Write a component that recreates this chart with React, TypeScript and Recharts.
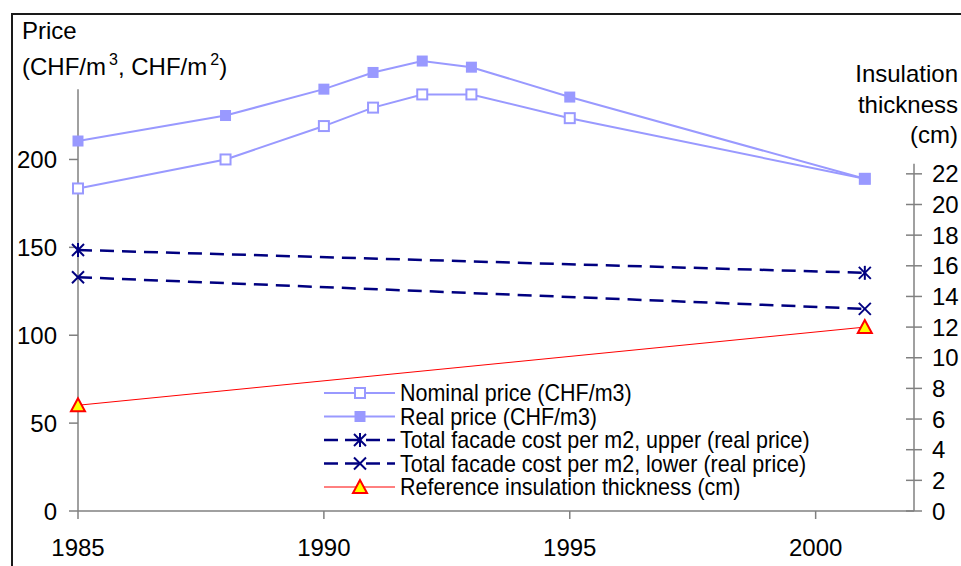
import React from "react";
import { LineChart, Line, XAxis, YAxis, ReferenceLine, Legend } from "recharts";

// values
const years = [1985, 1988, 1990, 1991, 1992, 1993, 1995, 2001];
const nominalPrice = [183.5, 200, 219, 229.5, 237, 237, 223.5, 189];
const realPrice = [210.5, 225, 240, 249.5, 256, 252.5, 235.5, 189];
const facadeUpper = [148.5, null, null, null, null, null, null, 135.5];
const facadeLower = [133, null, null, null, null, null, null, 115];
const refThickness = [6.9, null, null, null, null, null, null, 12];

const yearTicks = [1985, 1990, 1995, 2000];
const priceTicks = [0, 50, 100, 150, 200];
const thicknessTicks = [0, 2, 4, 6, 8, 10, 12, 14, 16, 18, 20, 22];

const data = years.map((year, i) => ({
  year,
  nominal: nominalPrice[i],
  real: realPrice[i],
  upper: facadeUpper[i],
  lower: facadeLower[i],
  thickness: refThickness[i],
}));

const LAV = "#9999ff";
const NAVY = "#000080";
const RED = "#ff0000";
const YELLOW = "#ffff00";
const AXIS = "#808080";
const FONT = '"Liberation Sans", Arial, sans-serif';
const DASH = "14 8";

type Shape = "openSquare" | "filledSquare" | "asterisk" | "cross" | "triangle";

function Marker({ shape, cx, cy }: { shape: Shape; cx: number; cy: number }) {
  switch (shape) {
    case "openSquare":
      return <rect x={cx - 5} y={cy - 5} width={10} height={10} fill="#fff" stroke={LAV} strokeWidth={2} />;
    case "filledSquare":
      return <rect x={cx - 5.5} y={cy - 5.5} width={11} height={11} fill={LAV} />;
    case "asterisk":
      return (
        <g stroke={NAVY} strokeWidth={2}>
          <line x1={cx - 6} y1={cy - 6} x2={cx + 6} y2={cy + 6} />
          <line x1={cx - 6} y1={cy + 6} x2={cx + 6} y2={cy - 6} />
          <line x1={cx} y1={cy - 7} x2={cx} y2={cy + 7} />
        </g>
      );
    case "cross":
      return (
        <g stroke={NAVY} strokeWidth={2}>
          <line x1={cx - 6} y1={cy - 6} x2={cx + 6} y2={cy + 6} />
          <line x1={cx - 6} y1={cy + 6} x2={cx + 6} y2={cy - 6} />
        </g>
      );
    default:
      return (
        <polygon
          points={`${cx},${cy - 7} ${cx - 7},${cy + 6} ${cx + 7},${cy + 6}`}
          fill={YELLOW}
          stroke={RED}
          strokeWidth={2}
          strokeLinejoin="miter"
        />
      );
  }
}

const dotOf = (shape: Shape) => (props: any) => {
  const { cx, cy, index, value } = props;
  if (value == null || cx == null || cy == null) return <g key={`e-${index}`} />;
  return (
    <g key={`${shape}-${index}`}>
      <Marker shape={shape} cx={cx} cy={cy} />
    </g>
  );
};

const series = [
  { key: "nominal", name: "Nominal price (CHF/m3)", color: LAV, width: 2, dash: undefined, shape: "openSquare" as Shape, axis: "left" },
  { key: "real", name: "Real price (CHF/m3)", color: LAV, width: 2, dash: undefined, shape: "filledSquare" as Shape, axis: "left" },
  { key: "upper", name: "Total facade cost per m2, upper (real price)", color: NAVY, width: 2.5, dash: DASH, shape: "asterisk" as Shape, axis: "left" },
  { key: "lower", name: "Total facade cost per m2, lower (real price)", color: NAVY, width: 2.5, dash: DASH, shape: "cross" as Shape, axis: "left" },
  { key: "thickness", name: "Reference insulation thickness (cm)", color: RED, width: 1, dash: undefined, shape: "triangle" as Shape, axis: "right" },
];

function LegendBox() {
  const rowH = 23.5;
  return (
    <svg width={520} height={125} style={{ display: "block", overflow: "visible" }}>
      {series.map((s, i) => {
        const y = 13 + i * rowH;
        return (
          <g key={s.key}>
            <line
              x1={4}
              x2={75}
              y1={y}
              y2={y}
              stroke={s.color}
              strokeWidth={s.width}
              strokeDasharray={s.dash ? "14 7" : undefined}
            />
            <Marker shape={s.shape} cx={40} cy={y} />
            <text
              transform={`translate(80 ${y}) scale(0.935 1)`}
              dy="0.36em"
              fontSize={23}
              fill="#000"
              fontFamily={FONT}
            >
              {s.name}
            </text>
          </g>
        );
      })}
    </svg>
  );
}

const RightTick = (props: any) => {
  const { x, y, payload } = props;
  return (
    <g>
      <line x1={x - 8} x2={x + 8} y1={y} y2={y} stroke={AXIS} strokeWidth={1.5} />
      <text x={x + 18} y={y} dy="0.36em" fontSize={24} fill="#000" fontFamily={FONT}>
        {payload.value}
      </text>
    </g>
  );
};

export default function App() {
  return (
    <div
      style={{
        position: "fixed",
        left: 0,
        top: 0,
        width: 961,
        height: 566,
        overflow: "hidden",
        background: "#fff",
        fontFamily: FONT,
      }}
    >
      <div
        style={{
          position: "absolute",
          left: 11,
          top: 13,
          width: 1000,
          height: 600,
          border: "2px solid #1a1a1a",
        }}
      />
      <LineChart
        width={961}
        height={566}
        data={data}
        margin={{ top: 54, right: 7, bottom: 15, left: 8 }}
        style={{ position: "absolute", left: 0, top: 0 }}
      >
        <XAxis
          dataKey="year"
          type="number"
          domain={[1985, 2002]}
          ticks={yearTicks}
          height={40}
          stroke={AXIS}
          strokeWidth={1.5}
          tickSize={8}
          tickMargin={20}
          tick={{ fill: "#000", fontSize: 24 }}
        />
        <YAxis
          yAxisId="left"
          domain={[0, 260]}
          ticks={priceTicks}
          width={70}
          axisLine={false}
          stroke={AXIS}
          strokeWidth={1.5}
          tickSize={9}
          tickMargin={12}
          tick={{ fill: "#000", fontSize: 24 }}
        />
        <YAxis
          yAxisId="right"
          orientation="right"
          domain={[0, 29.82]}
          ticks={thicknessTicks}
          width={40}
          axisLine={false}
          tickLine={false}
          tickSize={0}
          tickMargin={0}
          tick={RightTick}
        />
        <ReferenceLine
          yAxisId="left"
          segment={[
            { x: 1985, y: 0 },
            { x: 1985, y: 240 },
          ]}
          stroke={AXIS}
          strokeWidth={1.5}
          ifOverflow="visible"
        />
        <ReferenceLine
          yAxisId="right"
          segment={[
            { x: 2002, y: 0 },
            { x: 2002, y: 22.66 },
          ]}
          stroke={AXIS}
          strokeWidth={1.5}
          ifOverflow="visible"
        />
        {series.map((s) => (
          <Line
            key={s.key}
            yAxisId={s.axis}
            dataKey={s.key}
            name={s.name}
            type="linear"
            stroke={s.color}
            strokeWidth={s.width}
            strokeDasharray={s.dash}
            connectNulls
            dot={dotOf(s.shape)}
            activeDot={false}
            isAnimationActive={false}
          />
        ))}
        <Legend
          layout="vertical"
          align="center"
          verticalAlign="middle"
          content={() => <LegendBox />}
          wrapperStyle={{ position: "absolute", left: 320, top: 380, width: 520, height: 125 }}
        />
      </LineChart>
      <svg
        width={961}
        height={566}
        style={{ position: "absolute", left: 0, top: 0, pointerEvents: "none" }}
      >
        <text x={22} y={39} fontSize={24} fill="#000" fontFamily={FONT}>
          Price
        </text>
        <text x={22} y={75} fontSize={24} fill="#000" fontFamily={FONT}>
          (CHF/m
          <tspan dx={3} dy={-10} fontSize={16}>3</tspan>
          <tspan dy={10}>, CHF/m</tspan>
          <tspan dx={3} dy={-10} fontSize={16}>2</tspan>
          <tspan dy={10}>)</tspan>
        </text>
        <g fontSize={24} fill="#000" fontFamily={FONT} textAnchor="end">
          <text x={958} y={82}>Insulation</text>
          <text x={958} y={113}>thickness</text>
          <text x={958} y={143}>(cm)</text>
        </g>
      </svg>
    </div>
  );
}
